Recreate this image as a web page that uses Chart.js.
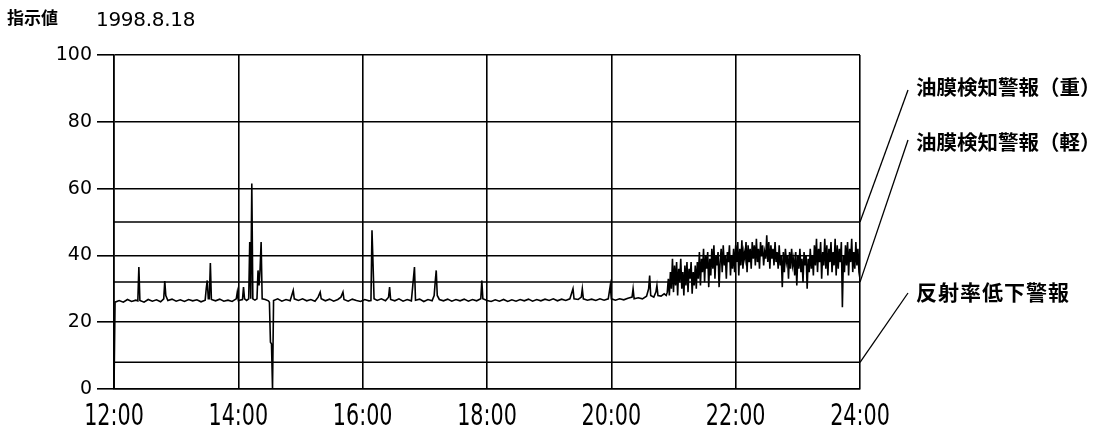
<!DOCTYPE html>
<html>
<head>
<meta charset="utf-8">
<script src="https://cdn.jsdelivr.net/npm/chart.js@4"></script>
<style>
  html, body { margin: 0; padding: 0; background: #fff; }
  #wrap { position: relative; width: 1112px; height: 429px; }
  .lbl { position: absolute; color: #000; white-space: nowrap; line-height: 1; }
  .cjk { font-family: "Noto Sans CJK JP", sans-serif; font-weight: 700; }
</style>
</head>
<body>
<div id="wrap">
  <canvas id="chart" width="1112" height="429"></canvas>
  <div class="lbl cjk" style="left:7px; top:8px; font-size:17px;">指示値</div>
  <div class="lbl" style="left:96px; top:9px; font-size:20px; font-family:'DejaVu Sans'; letter-spacing:-0.3px;">1998.8.18</div>
  <div class="lbl cjk" id="a0" style="left:916px; top:76px; font-size:20.5px;"></div>
  <div class="lbl cjk" id="a1" style="left:916px; top:131px; font-size:20.5px;"></div>
  <div class="lbl cjk" id="a2" style="left:916px; top:281px; font-size:21px; letter-spacing:1px;"></div>
</div>
<script>
// time axis: minutes after 12:00
var timeTicks = ["12:00", "14:00", "16:00", "18:00", "20:00", "22:00", "24:00"];

// alarm thresholds (indicator value) and their names
var alarmNames = ["油膜検知警報（重）", "油膜検知警報（軽）", "反射率低下警報"];
var alarmValues = [50, 32, 8];

// quiet part of the record
var quietTimes = [0, 1, 5, 9, 13, 17, 21, 23, 24, 25, 29, 33, 37, 41, 45, 48, 49, 50, 52, 56,
  60, 64, 68, 72, 76, 80, 84, 88, 89, 90, 91, 92, 93, 94, 98, 102, 106, 110, 114, 118,
  119, 120, 124, 125, 126, 128, 130, 131, 132, 133, 134, 136, 138, 139, 140, 141, 142, 143, 146, 149,
  150, 151, 152, 153, 154, 158, 162, 166, 170, 173, 174, 178, 182, 186, 190, 194, 197, 199, 200, 204,
  208, 212, 216, 219, 221, 222, 226, 230, 234, 238, 242, 246, 248, 249, 250, 251, 254, 258, 262, 265,
  266, 267, 271, 275, 279, 283, 287, 290, 291, 295, 299, 303, 307, 309, 310, 311, 312, 314, 318, 322,
  326, 330, 334, 338, 342, 346, 350, 354, 355, 356, 360, 364, 368, 372, 376, 380, 384, 388, 392, 396,
  400, 404, 408, 412, 416, 420, 424, 428, 432, 436, 440, 443, 444, 448, 451, 452, 453, 457, 461, 465,
  469, 473, 477, 479, 480, 484, 488, 492, 496, 500, 501, 502, 506, 510, 514, 516, 517, 518, 521, 523,
  524, 525, 528, 531, 533];
var quietValues = [0, 26, 26.5, 26, 26.8, 26.2, 26.6, 26.4, 36.5, 26.5, 26, 26.8, 26.3, 26.7, 26.1, 27, 32.3, 28, 26.5, 26.9,
  26.3, 26.7, 26.2, 26.8, 26.4, 26.7, 26.1, 26.6, 30, 32.5, 27, 27, 37.7, 26.8, 26.4, 26.9, 26.3, 26.6, 26.2, 27,
  29, 26.5, 26.8, 30.5, 27, 26.5, 27, 44, 27, 61.5, 27, 26.6, 27, 35.5, 31, 36, 44, 27, 26.8, 26.4,
  26, 14, 13.5, 0, 26.5, 27, 26.3, 26.8, 26.4, 29.5, 27, 26.5, 27, 26.4, 26.8, 26.3, 27.5, 29, 27, 26.4,
  26.9, 26.3, 26.8, 27.5, 29, 26.8, 26.3, 26.9, 26.5, 26.2, 26.8, 26.4, 26.5, 47.5, 37.5, 27, 26.5, 27, 26.4, 27.5,
  30.5, 26.8, 26.4, 27, 26.3, 26.8, 26.4, 36.5, 26.6, 26.9, 26.2, 26.8, 26.4, 28, 32, 35.5, 28, 26.8, 26.4, 26.9,
  26.3, 26.8, 26.4, 26.9, 26.3, 26.8, 26.4, 27, 32.5, 27, 26.5, 26.2, 26.7, 26.3, 26.8, 26.2, 26.7, 26.3, 26.8, 26.4,
  26.9, 26.3, 26.8, 26.4, 26.9, 26.5, 27, 26.4, 26.9, 26.5, 27, 30, 27, 26.8, 27.5, 30, 27, 26.6, 26.9, 26.5,
  27, 26.6, 27, 31, 27, 26.6, 27, 26.7, 27.2, 27.5, 30, 27, 27.3, 27, 27.8, 30, 34, 28, 27.5, 29,
  31, 28, 27.8, 28.5, 28];

// noisy part, one reading per minute from 20:54 (minute 534) to 24:00
var busyStart = 534;
var busyValues = [
  29, 33, 28, 35, 30, 39, 29, 37, 31, 38, 28, 36, 32, 39, 30,
  35, 28, 37, 31, 38, 29, 36, 33, 38, 28.5, 35, 31, 37, 30, 38,
  33, 41, 31, 39, 35, 42, 32, 40, 36, 41, 30.5, 39,
  34, 42, 36, 43, 33, 40, 37, 41, 30.5, 38, 42, 35, 43, 37, 40, 33, 41, 38, 43, 34, 40, 36, 42,
  35, 43, 38, 44, 34, 42, 37, 44.5, 36, 41, 39, 44, 35, 43, 38, 42,
  36, 44, 39, 43, 37, 45, 38, 42, 36, 44, 40, 43, 37, 41, 39, 46, 38, 44, 36, 43, 39, 42, 37, 44, 38, 41, 36, 43,
  37, 40, 30.5, 41, 35, 42, 38, 40, 33, 41, 36, 42, 37, 39, 34, 41, 31, 40, 36, 42, 35, 39, 32, 41, 37, 40, 30, 39, 35, 42, 36, 40,
  34, 43, 37, 45, 35, 42, 38, 44, 33, 41, 37, 45, 36, 43, 34, 42, 38, 44, 35, 41, 37, 45, 34, 43, 36, 42, 38, 44, 24.5, 40,
  35, 43, 37, 44, 34, 42, 38, 45, 35, 41, 36, 44, 37, 42, 35, 33
];

var trace = [];
for (var i = 0; i < quietTimes.length; i++) trace.push({ x: quietTimes[i], y: quietValues[i] });
for (var j = 0; j < busyValues.length; j++) trace.push({ x: busyStart + j, y: busyValues[j] });

var datasets = [{
  data: trace,
  borderColor: "#000",
  borderWidth: 1.6,
  pointRadius: 0,
  tension: 0
}];
alarmValues.forEach(function (v) {
  datasets.push({
    data: [{ x: 0, y: v }, { x: 720, y: v }],
    borderColor: "#000",
    borderWidth: 1.5,
    pointRadius: 0
  });
});

alarmNames.forEach(function (n, k) { document.getElementById("a" + k).textContent = n; });

// where the leader lines end, next to each label
var leaderEnds = [[908, 90], [908, 140], [908, 293]];

var leaders = {
  id: "leaders",
  afterDatasetsDraw: function (chart) {
    var ctx = chart.ctx, area = chart.chartArea, ys = chart.scales.y, xs = chart.scales.x;
    ctx.save();
    ctx.strokeStyle = "#000";
    ctx.lineWidth = 1.3;
    alarmValues.forEach(function (v, k) {
      ctx.beginPath();
      ctx.moveTo(area.right, ys.getPixelForValue(v));
      ctx.lineTo(leaderEnds[k][0], leaderEnds[k][1]);
      ctx.stroke();
    });
    // narrow time labels under the axis
    ctx.fillStyle = "#000";
    ctx.font = "30px 'DejaVu Sans'";
    ctx.textAlign = "center";
    ctx.textBaseline = "alphabetic";
    timeTicks.forEach(function (t, k) {
      var px = xs.getPixelForValue(k * 120);
      ctx.save();
      ctx.translate(px, area.bottom + 36);
      ctx.scale(0.69, 1);
      ctx.fillText(t, 0, 0);
      ctx.restore();
    });
    ctx.restore();
  }
};

new Chart(document.getElementById("chart"), {
  type: "line",
  data: { datasets: datasets },
  plugins: [leaders],
  options: {
    responsive: false,
    animation: false,
    devicePixelRatio: 1,
    layout: { padding: { top: 55, right: 252, left: 0, bottom: 0 } },
    plugins: { legend: { display: false }, tooltip: { enabled: false } },
    scales: {
      x: {
        type: "linear",
        min: 0,
        max: 720,
        ticks: { stepSize: 120, display: false },
        grid: { color: "#000", lineWidth: 1.6, drawTicks: false },
        border: { color: "#000", width: 1.6 },
        afterFit: function (s) { s.height = 40; }
      },
      y: {
        min: 0,
        max: 100,
        ticks: { stepSize: 20, color: "#000", padding: 5, font: { family: "DejaVu Sans", size: 19 } },
        grid: { color: "#000", lineWidth: 1.6, tickLength: 17 },
        border: { color: "#000", width: 1.6 },
        afterFit: function (s) { s.width = 114; }
      }
    }
  }
});
</script>
</body>
</html>
